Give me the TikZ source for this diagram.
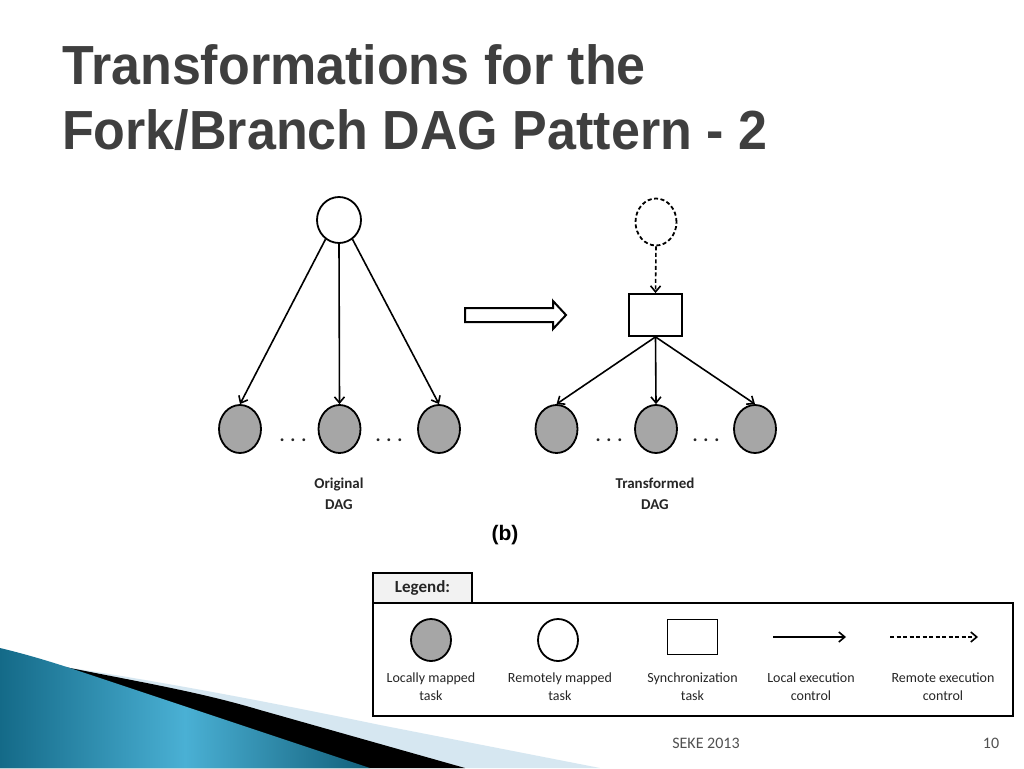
\documentclass[tikz,border=0pt]{standalone}
\usepackage{fontspec}
\setmainfont{Carlito}
\newfontfamily\titlefont{Liberation Sans}
\usetikzlibrary{arrows.meta,shapes.geometric}
\definecolor{titlec}{HTML}{3F3F3F}
\definecolor{taskgray}{HTML}{A6A6A6}
\definecolor{tabgray}{HTML}{F2F2F2}
\definecolor{txtc}{HTML}{262626}
\definecolor{swdark}{HTML}{146A88}
\definecolor{swlight}{HTML}{4AB0D4}
\definecolor{swpale}{HTML}{D6E7F1}
\tikzset{
  task/.style={ellipse,draw=black,line width=1.8pt,minimum width=42pt,minimum height=48pt,inner sep=0pt},
  loctask/.style={task,fill=taskgray},
  remtask/.style={task,fill=white},
  synctask/.style={rectangle,draw=black,line width=1.8pt,minimum width=53pt,minimum height=42pt,inner sep=0pt,fill=white},
  arr/.style={line width=1.6pt,-{Straight Barb[length=6pt,width=10pt,line width=1.6pt]}},
  darr/.style={arr,dash pattern=on 4pt off 2.5pt},
  dagl/.style={font=\bfseries\fontsize{15}{21}\selectfont,align=center,text=txtc},
  legl/.style={font=\fontsize{14}{18}\selectfont,align=center,text=txtc},
  dotsl/.style={font=\bfseries\fontsize{19}{19}\selectfont,text=txtc,inner sep=0pt},
  titlel/.style={anchor=base west,inner sep=0pt,font=\titlefont\bfseries\fontsize{52}{62}\selectfont,text=titlec,yscale=1.06},
  footl/.style={font=\fontsize{16}{16}\selectfont,text=txtc!80}
}
\begin{document}
\begin{tikzpicture}[x=1pt,y=-1pt]
\fill[white] (0,0) rectangle (1024,768);
\useasboundingbox (0,0) rectangle (1024,768);
% decorative swoosh
\fill[swpale] (65,667) .. controls (150,680) and (250,698) .. (380,725) -- (600,768) -- (0,768) -- cycle;
\fill[black] (65,667) .. controls (140,682) and (200,692) .. (260,710) -- (465,768) -- (0,768) -- cycle;
\shade[left color=swdark,right color=swdark!90!black,middle color=swlight] (0,648) .. controls (25,654) and (45,660) .. (70,668) -- (370,768) -- (0,768) -- cycle;
% title
\node[titlel] (title1) at (62,84) {Transformations for the};
\node[titlel] (title2) at (62,149) {Fork/Branch DAG Pattern - 2};
% original DAG
\node[remtask,minimum width=44pt,minimum height=46pt] (t1) at (339,220) {};
\node[loctask] (a1) at (240,429) {};
\node[loctask] (a2) at (339.5,429) {};
\node[loctask] (a3) at (439,429) {};
\draw[arr] (t1.235) -- (a1.north);
\draw[arr] (t1.south) -- (a2.north);
\draw[arr] (t1.305) -- (a3.north);
\node[dotsl] (d1) at (293,440) {. . .};
\node[dotsl] (d2) at (389,440) {. . .};
\node[dagl] (l1) at (339,493.5) {Original\\DAG};
% transformation arrow
\draw[line width=2pt,fill=white,line join=miter] (465,308) -- (553,308) -- (553,301) -- (566,315) -- (553,329) -- (553,322) -- (465,322) -- cycle;
% transformed DAG
\node[remtask,dashed,dash pattern=on 4pt off 2.5pt,minimum width=41pt,minimum height=47pt] (t2) at (656,222) {};
\node[synctask] (s) at (655.5,315) {};
\draw[darr] (t2.south) -- (s.north);
\node[loctask] (b1) at (556.5,429) {};
\node[loctask] (b2) at (656,429) {};
\node[loctask] (b3) at (755,429) {};
\draw[arr] (s.south) -- (b1.north);
\draw[arr] (s.south) -- (b2.north);
\draw[arr] (s.south) -- (b3.north);
\node[dotsl] (d3) at (609,440) {. . .};
\node[dotsl] (d4) at (706,440) {. . .};
\node[dagl] (l2) at (655,493.5) {Transformed\\DAG};
\node[font=\titlefont\bfseries\fontsize{21}{21}\selectfont,text=black] (bl) at (505,535) {(b)};
% legend
\node[draw=black,line width=1.5pt,minimum width=640pt,minimum height=113pt,inner sep=0pt] (legbox) at (693,659.5) {};
\node[draw=black,fill=tabgray,line width=1.5pt,minimum width=99pt,minimum height=30pt,inner sep=0pt,font=\bfseries\fontsize{17}{17}\selectfont,text=txtc] (tab) at (422.5,588) {Legend:};
\node[loctask,minimum width=40pt,minimum height=42pt] (lg1) at (431,640) {};
\node[remtask,minimum width=40pt,minimum height=42pt] (lg2) at (558,640) {};
\node[synctask,minimum width=50pt,minimum height=35pt] (lg3) at (692.5,637) {};
\coordinate (ls1) at (773,637);
\coordinate (ls2) at (846,637);
\draw[arr] (ls1) -- (ls2);
\coordinate (lr1) at (890,637);
\coordinate (lr2) at (978,637);
\draw[darr] (lr1) -- (lr2);
\node[legl] (lt1) at (431,687) {Locally mapped\\task};
\node[legl] (lt2) at (560,687) {Remotely mapped\\task};
\node[legl] (lt3) at (692.5,687) {Synchronization\\task};
\node[legl] (lt4) at (811,687) {Local execution\\control};
\node[legl] (lt5) at (943,687) {Remote execution\\control};
% footer
\node[footl] (f1) at (706,743) {SEKE 2013};
\node[footl] (f2) at (991,743) {10};
\end{tikzpicture}
\end{document}
